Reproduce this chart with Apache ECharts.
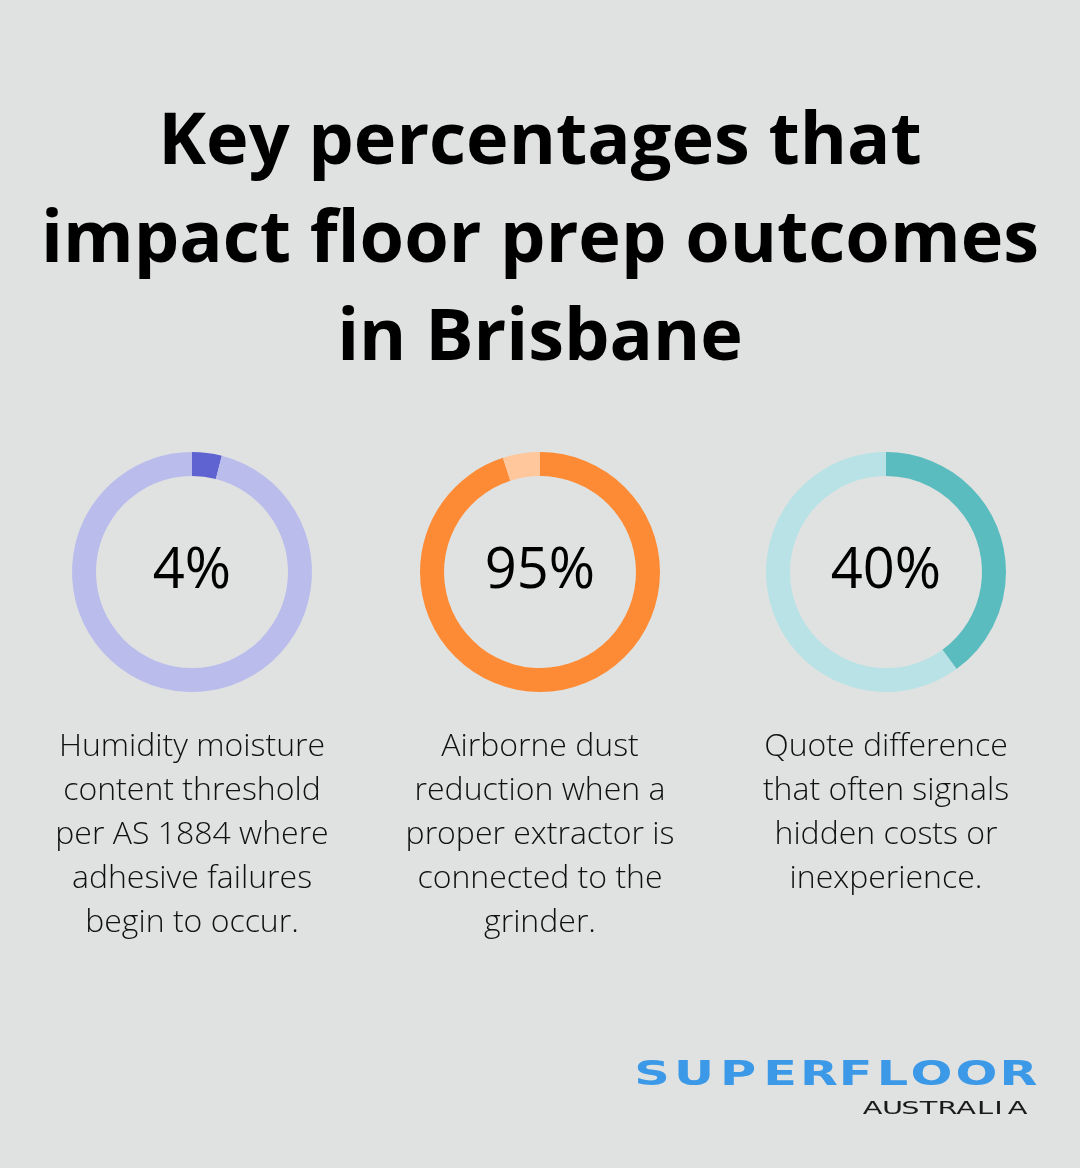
<!DOCTYPE html>
<html>
<head>
<meta charset="utf-8">
<script src="https://cdn.jsdelivr.net/npm/echarts@6/dist/echarts.min.js"></script>
<style>
  html, body { margin: 0; padding: 0; background: #e0e2e1; }
  #chart { width: 1080px; height: 1168px; }
</style>
</head>
<body>
<div id="chart"></div>
<script>
// data
const titleLines = ['Key percentages that', 'impact floor prep outcomes', 'in Brisbane'];
const values = [4, 95, 40];
const valueLabels = ['4%', '95%', '40%'];
const descriptions = [
  'Humidity moisture\ncontent threshold\nper AS 1884 where\nadhesive failures\nbegin to occur.',
  'Airborne dust\nreduction when a\nproper extractor is\nconnected to the\ngrinder.',
  'Quote difference\nthat often signals\nhidden costs or\ninexperience.'
];

// colours per ring: [filled, remainder]
const ringColors = [
  ['#5f63d2', '#babdec'],
  ['#fd8b35', '#ffc79b'],
  ['#5bbcbf', '#b8e2e5']
];
const centersX = [192, 540, 886];

// logo letter centres (wide tracking)
const logoTop = 'SUPERFLOOR';
const logoTopX = [652, 694, 738, 780, 819, 855.5, 892.5, 931.5, 976.5, 1018.5];
const logoBottom = 'AUSTRALIA';
const logoBottomX = [872.5, 892.5, 910.5, 928.5, 947.5, 966, 985, 998.5, 1017.5];

let chart = echarts.init(document.getElementById('chart'));

// pie rings
let series = values.map(function (v, i) {
  return {
    type: 'pie',
    center: [centersX[i], 572],
    radius: [96, 120],
    startAngle: 90,
    clockwise: true,
    silent: true,
    animation: false,
    labelLine: { show: false },
    label: {
      show: false,
      position: 'center',
      fontFamily: 'Open Sans',
      fontSize: 56,
      fontWeight: 500,
      color: '#000'
    },
    data: [
      {
        value: v,
        itemStyle: { color: ringColors[i][0] },
        label: { show: true, formatter: valueLabels[i] }
      },
      {
        value: 100 - v,
        itemStyle: { color: ringColors[i][1] },
        label: { show: false }
      }
    ]
  };
});

// title
let graphics = [{
  type: 'text',
  x: 540,
  y: 94,
  silent: true,
  style: {
    text: titleLines.join('\n'),
    align: 'center',
    verticalAlign: 'top',
    font: 'bold 72px "Open Sans"',
    lineHeight: 98,
    fill: '#000'
  }
}];

// description blocks under rings
descriptions.forEach(function (d, i) {
  graphics.push({
    type: 'text',
    x: centersX[i],
    y: 725,
    silent: true,
    style: {
      text: d,
      align: 'center',
      verticalAlign: 'top',
      font: '300 32px "Open Sans"',
      lineHeight: 44,
      fill: '#111'
    }
  });
});

// logo, letter by letter
logoTop.split('').forEach(function (ch, i) {
  graphics.push({
    type: 'text',
    x: logoTopX[i],
    y: 1076,
    scaleX: 1.45,
    silent: true,
    style: {
      text: ch,
      align: 'center',
      verticalAlign: 'middle',
      font: 'bold 34px "DejaVu Sans"',
      fill: '#3b99e8'
    }
  });
});
logoBottom.split('').forEach(function (ch, i) {
  graphics.push({
    type: 'text',
    x: logoBottomX[i],
    y: 1109.5,
    scaleX: 1.6,
    silent: true,
    style: {
      text: ch,
      align: 'center',
      verticalAlign: 'middle',
      font: '18px "DejaVu Sans"',
      fill: '#1a1a1a'
    }
  });
});

chart.setOption({
  backgroundColor: '#e0e2e1',
  animation: false,
  series: series,
  graphic: graphics
});
</script>
</body>
</html>
